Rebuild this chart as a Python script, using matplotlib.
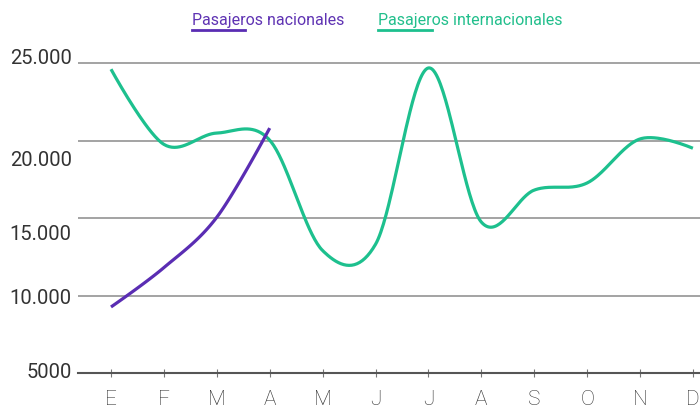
import numpy as np
import matplotlib
matplotlib.use('Agg')
from matplotlib import pyplot as plt
from matplotlib.lines import Line2D
from matplotlib.transforms import ScaledTranslation

plt.rcParams['font.family'] = ['Roboto', 'DejaVu Sans']

meses = ['E', 'F', 'M', 'A', 'M', 'J', 'J', 'A', 'S', 'O', 'N', 'D']
nacionales = [9260, 11800, 15050, 20800]
internacionales = [24600, 19750, 20480, 20020, 12900, 13300,
                   24680, 14740, 16800, 17260, 20100, 19500]
niveles = [5000, 10000, 15000, 20000, 25000]
etiquetas_y = ['5000', '10.000', '15.000', '20.000', '25.000']
# desplazamiento vertical de cada etiqueta (px, positivo = abajo)
desfase_y = [-3, 1.5, 15, 17.5, -6]

morado = '#5a2db3'
verde = '#1dc08e'


def suavizar(y, k=1 / 3, n=40):
    # curva bezier por tramos; tangente tipo catmull-rom, extremos sin tangente
    y = np.asarray(y, dtype=float)
    m = len(y)
    tan = np.zeros(m)
    tan[1:-1] = (y[2:] - y[:-2]) / 2
    xs, ys = [], []
    for i in range(m - 1):
        t = np.linspace(0, 1, n, endpoint=(i == m - 2))
        p0 = np.array([i, y[i]])
        p3 = np.array([i + 1, y[i + 1]])
        if i == 0:
            p1 = p0
        else:
            p1 = p0 + k * np.array([1, tan[i]])
        if i + 1 == m - 1:
            p2 = p3
        else:
            p2 = p3 - k * np.array([1, tan[i + 1]])
        b = ((1 - t) ** 3)[:, None] * p0 + (3 * (1 - t) ** 2 * t)[:, None] * p1 \
            + (3 * (1 - t) * t ** 2)[:, None] * p2 + (t ** 3)[:, None] * p3
        xs.append(b[:, 0])
        ys.append(b[:, 1])
    return np.concatenate(xs), np.concatenate(ys)


fig = plt.figure(figsize=(7, 4.09), dpi=100)
W, H = 700, 409
ax = fig.add_axes([78 / W, (H - 373) / H, (700 - 78) / W, (373 - 50) / H])

x0 = (78 - 111) / 52.9
x1 = (700 - 111) / 52.9
ax.set_xlim(x0, x1)
ax.set_ylim(5000, 25000 + (63 - 50) / 15.5 * 1000)

for v in niveles[1:]:
    ax.axhline(v, color='#8a8a8a', lw=1.1, zorder=1)

xi, yi = suavizar(internacionales)
ax.plot(xi, yi, color=verde, lw=2.3, zorder=3, solid_capstyle='butt')
xn, yn = suavizar(nacionales)
ax.plot(xn, yn, color=morado, lw=2.3, zorder=4, solid_capstyle='butt')

for s in ['top', 'right', 'left']:
    ax.spines[s].set_visible(False)
ax.spines['bottom'].set_color('#555555')
ax.spines['bottom'].set_linewidth(1.5)

ax.set_xticks(range(len(meses)))
ax.set_xticklabels(meses, fontsize=15, fontweight='light', color='#333333')
ax.tick_params(axis='x', direction='inout', length=6, width=0.8,
               color='#777777', pad=9.5)

ax.set_yticks(niveles)
ax.set_yticklabels(etiquetas_y, fontsize=14.5, color='#333333')
ax.tick_params(axis='y', length=0, pad=4.5)
for lab, d in zip(ax.get_yticklabels(), desfase_y):
    lab.set_transform(lab.get_transform() +
                      ScaledTranslation(0, -d / 100, fig.dpi_scale_trans))

# leyenda
fig.text(192 / W, 1 - 20 / H, 'Pasajeros nacionales', color='#5f33b3',
         fontsize=11.5, va='center', ha='left')
fig.text(378 / W, 1 - 20 / H, 'Pasajeros internacionales', color='#22bf8c',
         fontsize=11.5, va='center', ha='left')
fig.add_artist(Line2D([192 / W, 245 / W], [1 - 30 / H, 1 - 30 / H],
                      color=morado, lw=2))
fig.add_artist(Line2D([378 / W, 432 / W], [1 - 30 / H, 1 - 30 / H],
                      color=verde, lw=2))

plt.savefig('out.png', dpi=100)
